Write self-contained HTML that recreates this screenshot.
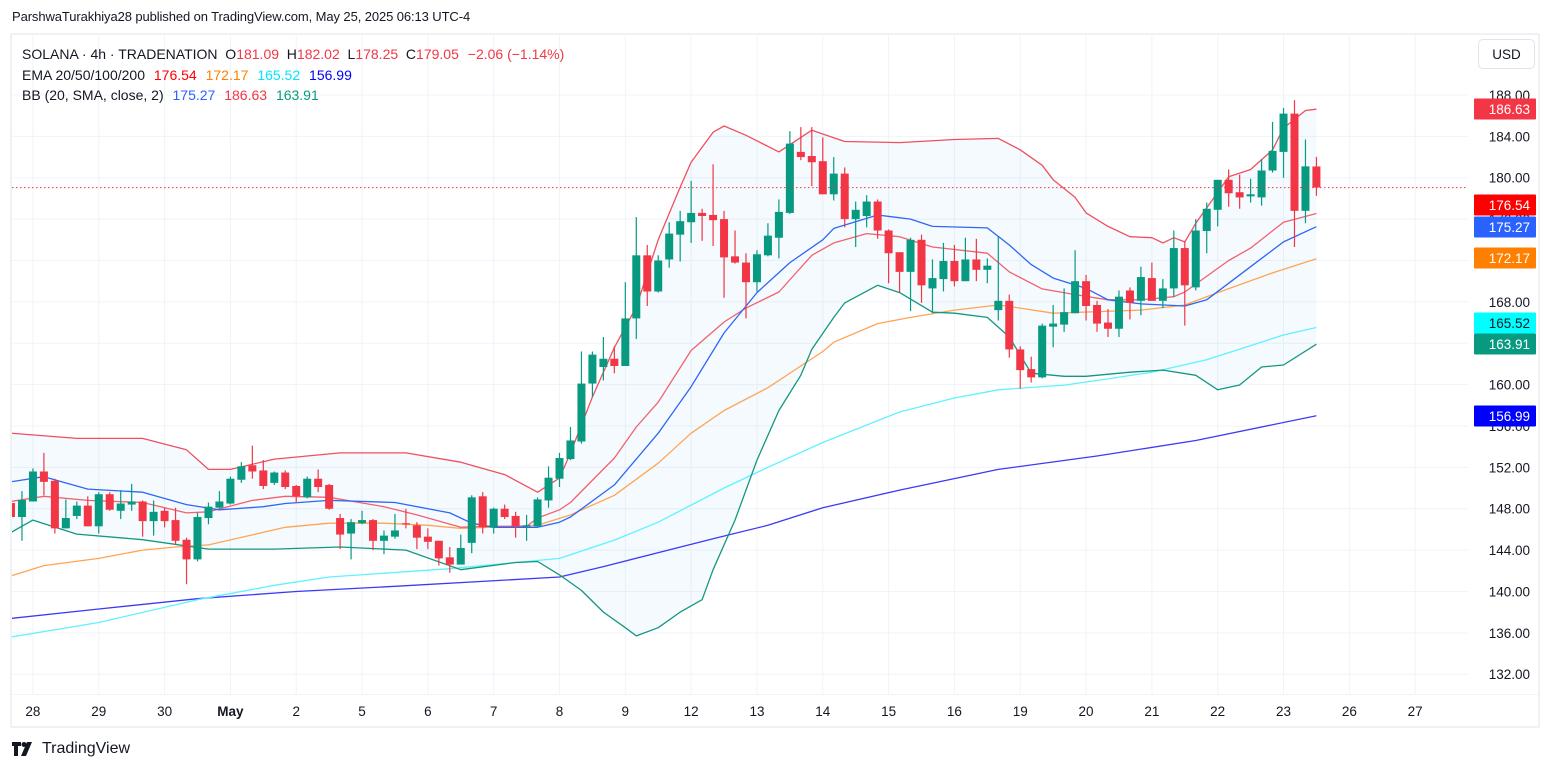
<!DOCTYPE html>
<html><head><meta charset="utf-8">
<style>
html,body{margin:0;padding:0;background:#fff;width:1553px;height:772px;overflow:hidden;font-family:"Liberation Sans",sans-serif;}
#hdr{position:absolute;left:12px;top:9px;font-size:13px;letter-spacing:-0.1px;color:#131722;}
#legend{position:absolute;left:22px;top:44px;font-size:14px;color:#131722;line-height:20.5px;}
#legend span{margin-left:5px}
#usd{position:absolute;left:1478px;top:39px;width:57px;height:30px;border:1px solid #e0e3eb;border-radius:5px;box-sizing:border-box;font-size:13.5px;text-align:center;line-height:29px;color:#131722;background:#fff}
#logo{position:absolute;left:12px;top:740px;font-size:16px;color:#131722;display:flex;align-items:center;gap:6px}
svg{position:absolute;left:0;top:0}
</style></head><body>
<div id="hdr">ParshwaTurakhiya28 published on TradingView.com, May 25, 2025 06:13 UTC-4</div>
<svg id="chart" width="1553" height="772"></svg>
<div id="legend">
<div>SOLANA · 4h · TRADENATION&nbsp; O<span style="color:#f23645;margin-left:0">181.09</span>&nbsp; H<span style="color:#f23645;margin-left:0">182.02</span>&nbsp; L<span style="color:#f23645;margin-left:0">178.25</span>&nbsp; C<span style="color:#f23645;margin-left:0">179.05</span> <span style="color:#f23645">−2.06 (−1.14%)</span></div>
<div>EMA 20/50/100/200 <span style="color:#ff0000">176.54</span> <span style="color:#ff7f00">172.17</span> <span style="color:#00e5ff">165.52</span> <span style="color:#0000ff">156.99</span></div>
<div>BB (20, SMA, close, 2) <span style="color:#2962ff">175.27</span> <span style="color:#f23645">186.63</span> <span style="color:#089981">163.91</span></div>
</div>
<div id="usd">USD</div>
<div id="logo"><svg width="24" height="14" viewBox="0 0 24 14" style="position:static"><path d="M0 0h9v4H6v10H2V4H0z" fill="#131722"/><circle cx="12" cy="2.5" r="2.5" fill="#131722"/><path d="M15 0h5l-6 14h-5z" fill="#131722"/></svg><span>TradingView</span></div>
<script>
const opens=[148.55,147.2,148.7,151.6,150.7,146.1,147.3,148.3,146.3,149.4,147.8,148.4,148.7,146.8,147.8,146.9,145.0,143.1,147.1,148.1,148.5,150.8,152.2,151.7,150.5,151.5,150.2,149.1,150.9,150.3,147.1,145.6,146.6,146.9,144.9,145.3,146.6,146.4,145.3,144.9,143.3,142.6,144.7,149.2,146.2,148.0,147.3,146.3,146.3,148.8,150.9,152.8,154.5,160.1,161.7,162.5,161.8,166.4,172.5,169.0,172.1,174.5,175.7,176.6,176.4,176.0,172.4,171.8,169.9,172.5,174.2,176.6,182.5,182.1,181.6,178.4,180.4,176.0,176.3,177.7,174.9,172.8,170.9,174.0,169.3,170.2,171.95,170.0,172.1,171.1,167.2,168.1,163.4,161.5,160.7,165.6,165.8,166.9,170.0,167.7,166.0,165.4,169.1,168.1,170.3,168.1,169.3,173.2,169.4,174.85,176.9,179.8,178.6,178.2,178.1,180.7,182.5,186.2,176.8,181.09];
const highs=[149.03,149.7,151.9,153.4,150.9,148.9,148.7,149.2,149.6,149.6,149.8,150.4,148.8,148.8,148.1,148.1,145.2,147.6,148.6,149.7,151.1,152.5,154.1,152.7,151.6,151.7,150.3,151.1,151.8,150.4,147.5,147.0,147.8,147.0,145.9,147.5,148.0,146.7,146.1,144.9,144.3,145.5,149.3,149.6,148.1,148.4,147.7,147.4,149.1,152.1,153.4,155.9,163.2,163.2,164.6,163.7,169.9,176.2,173.5,172.5,175.7,176.8,179.7,177.0,181.3,176.8,174.9,172.7,173.0,175.6,177.9,184.5,184.9,184.9,183.9,182.0,181.0,177.7,178.3,177.9,175.0,172.8,174.2,174.5,172.1,173.7,173.5,174.2,174.1,172.2,174.3,168.7,163.7,162.7,165.9,167.7,169.3,173.0,170.6,168.1,167.3,169.1,169.4,171.4,171.8,170.2,174.9,173.9,176.0,177.6,179.8,180.8,180.3,179.9,181.8,185.4,186.75,187.5,183.7,182.02];
const lows=[146.9,144.9,148.7,149.3,145.6,146.1,147.0,146.3,145.6,147.8,147.0,147.8,145.3,145.4,146.2,144.5,140.7,142.9,146.5,148.0,148.4,150.5,150.9,149.9,150.3,149.9,148.6,149.0,149.6,147.9,144.1,143.1,146.5,144.0,143.6,145.1,146.1,144.1,144.1,142.5,141.8,142.6,143.7,145.6,145.6,147.0,145.2,144.9,146.2,148.1,150.1,152.7,154.3,158.8,160.4,161.1,161.8,164.4,167.6,168.9,171.3,171.9,173.7,173.9,173.4,168.4,171.7,166.4,169.0,172.4,172.2,176.5,181.7,179.2,178.4,177.8,175.2,173.3,175.2,174.1,169.8,168.9,167.1,167.9,166.9,169.0,169.5,170.0,170.0,169.8,166.2,162.6,159.6,160.2,160.6,163.6,165.1,166.9,166.2,165.1,164.6,164.6,166.3,166.7,168.1,167.4,168.5,165.7,169.1,172.7,175.3,177.2,177.0,177.6,177.3,180.5,180.0,173.3,175.6,178.25];
const closes=[147.2,148.84,151.6,150.6,146.1,147.1,148.3,146.3,149.4,147.9,148.5,148.7,146.8,147.7,146.8,144.9,143.1,147.2,148.2,148.7,150.9,152.1,151.6,150.2,151.5,150.1,149.2,150.9,150.1,148.0,145.5,146.7,146.9,144.9,145.4,145.9,146.5,145.2,144.8,143.2,142.6,144.2,149.1,146.2,148.0,147.2,146.3,146.4,148.9,151.0,152.9,154.6,160.1,162.9,162.5,161.8,166.4,172.5,169.0,172.0,174.6,175.8,176.6,176.3,175.9,172.3,171.8,169.9,172.6,174.4,176.7,183.3,182.0,181.5,178.4,180.4,176.0,176.9,177.7,174.9,172.7,170.9,174.0,169.6,170.3,171.95,170.0,172.1,171.1,171.5,168.1,163.4,161.4,160.7,165.7,165.9,167.0,170.0,167.6,165.9,165.4,168.5,167.9,170.4,168.1,169.3,173.2,169.6,174.9,177.0,179.8,178.5,178.1,178.4,180.7,182.6,186.2,176.8,181.1,179.05];

const bbUpIdx=[0,6,12,16,18,20,24,30,36,41,45,48,50,51,53,55,57,59,61,62,64,65,67,70,73,76,81,86,90,92,94,95,97,98,100,102,104,105,106,107,108,111,113,115,116,118,119];
const bbUpVal=[155.3,154.8,154.8,153.7,151.8,151.8,152.8,153.4,153.4,152.5,151.3,149.6,150.97,153.4,158.8,163.6,167.5,174.0,179.1,181.5,184.4,185.0,184.1,182.5,184.6,183.5,183.4,183.7,183.8,182.7,181.2,179.8,178.1,176.6,175.3,174.3,174.2,173.7,174.2,173.8,175.6,180.1,180.8,182.7,184.8,186.5,186.63];
const bbLoIdx=[0,2,6,12,18,24,30,36,41,46,48,50,52,54,56,57,59,61,63,64,66,68,70,72,73,75,76,79,81,84,86,89,91,93,96,98,102,105,108,110,112,114,116,119];
const bbLoVal=[145.7,146.9,145.55,145.0,144.1,144.1,144.3,144.0,142.1,142.8,142.9,141.6,140.1,138.0,136.5,135.7,136.5,138.0,139.2,142.1,146.9,152.7,157.5,160.9,163.4,166.5,167.9,169.6,168.9,167.0,166.9,166.5,164.6,161.1,160.8,160.8,161.2,161.4,160.9,159.5,159.96,161.7,161.9,163.91];
const bbMidIdx=[0,3,7,12,16,19,23,25,29,35,40,42,44,48,50,51,55,59,62,65,68,71,74,75,79,82,84,89,91,93,95,98,100,103,107,109,113,116,119];
const bbMidVal=[150.6,151.1,149.9,149.6,148.4,147.9,148.2,148.5,148.8,148.6,147.6,146.6,146.2,146.2,146.7,147.2,150.3,155.3,159.8,165.0,168.9,171.8,174.0,175.1,176.4,176.0,175.3,175.15,173.5,171.6,170.3,169.3,168.2,167.8,167.6,168.2,171.4,173.8,175.27];
const ema20Idx=[0,3,7,12,16,18,22,25,29,34,37,41,43,47,48,50,51,55,57,59,62,65,67,70,73,75,78,81,84,89,91,94,97,100,103,106,107,111,113,116,119];
const ema20Val=[148.7,149.2,148.8,148.6,147.6,147.7,148.8,149.2,149.1,148.2,147.4,146.2,146.3,146.3,147.1,147.9,148.6,152.9,155.9,158.3,163.3,166.05,167.4,168.95,172.5,173.7,174.6,174.3,173.3,172.7,170.9,169.25,168.7,168.2,168.2,168.5,168.95,172.0,173.2,175.7,176.54];
const ema50Idx=[0,3,8,12,15,18,25,29,34,38,41,46,48,51,55,59,62,65,69,74,75,79,82,86,90,92,95,103,107,110,115,119];
const ema50Val=[141.5,142.5,143.2,144.0,144.3,144.5,146.2,146.6,146.6,146.4,146.1,146.3,146.4,147.4,149.3,152.4,155.3,157.5,159.7,163.2,164.1,165.9,166.5,167.2,167.7,167.4,166.9,167.2,167.7,168.9,170.8,172.17];
const ema100Idx=[0,8,17,24,29,40,50,55,59,65,69,74,81,86,90,96,99,104,109,116,119];
const ema100Val=[135.6,137.0,139.2,140.6,141.4,142.2,143.2,144.97,146.7,150.0,152.0,154.4,157.35,158.7,159.5,159.95,160.4,161.2,162.4,164.8,165.52];
const ema200Idx=[0,8,17,26,35,45,50,54,64,69,74,81,90,99,108,119];
const ema200Val=[137.4,138.3,139.3,140.0,140.5,141.1,141.4,142.4,145.1,146.4,148.1,149.8,151.8,153.1,154.6,156.99];

const priceTicks=[132,136,140,144,148,152,156,160,164,168,172,176,180,184,188];
const dayLabels=["28","29","30","May","2","5","6","7","8","9","12","13","14","15","16","19","20","21","22","23","26","27"];
const lastClose=179.05;
const tags=[[186.63,"#f23645","#fff"],[176.54,"#ff0000","#fff"],[175.27,"#2962ff","#fff"],[172.17,"#ff7f00","#fff"],[165.52,"#00ffff","#131722"],[163.91,"#089981","#fff"],[156.99,"#0000ff","#fff"]];
const tagY=[109,205,227,258,323,344,416];

const NS="http://www.w3.org/2000/svg";
const svg=document.getElementById('chart');
const L=12,R=1468,T=34,B=694;
function y(p){return 95+(188-p)*10.343;}
function x(i){return 11+10.97*i;}
function mk(tag,attrs,parent){const e=document.createElementNS(NS,tag);for(const k in attrs)e.setAttribute(k,attrs[k]);(parent||svg).appendChild(e);return e;}

const frame=mk('rect',{x:11,y:34,width:1528,height:693,fill:'none',stroke:'#e0e3eb','stroke-width':1});


const clip=mk('clipPath',{id:'pc'});mk('rect',{x:L,y:T,width:R-L,height:B-T},clip);
const g=mk('g',{'clip-path':'url(#pc)'});



priceTicks.forEach(p=>{const l=mk('line',{x1:L,x2:R,y1:y(p),y2:y(p),stroke:'#f0f3fa','stroke-width':1},g);

});
dayLabels.forEach((d,k)=>{const xi=x(2+6*k);
const l=mk('line',{x1:xi,x2:xi,y1:T,y2:B,stroke:'#f0f3fa','stroke-width':1},g);


const t=mk('text',{x:xi,y:716,'text-anchor':'middle','font-size':13.5,fill:'#131722','font-weight':d==='May'?'bold':'normal','font-family':'Liberation Sans, sans-serif'});
t.textContent=d;

});
mk('line',{x1:L,x2:1538,y1:B+0.5,y2:B+0.5,stroke:'#f0f3fa'});

function pts(idx,val){return idx.map((i,k)=>x(i).toFixed(1)+','+y(val[k]).toFixed(1));}
const fillPts=pts(bbUpIdx,bbUpVal).concat(pts(bbLoIdx,bbLoVal).reverse());
const bf=mk('polygon',{points:fillPts.join(' '),fill:'rgba(33,150,243,0.05)'},g);



function line(idx,val,color,name,w){const p=mk('polyline',{points:pts(idx,val).join(' '),fill:'none',stroke:color,'stroke-width':w||1.3,'stroke-linejoin':'round'},g);

}
line(ema200Idx,ema200Val,'#3b3bf5','ema-200-line');
line(ema100Idx,ema100Val,'#5ff2ff','ema-100-line');
line(ema50Idx,ema50Val,'#ffa552','ema-50-line');
line(bbLoIdx,bbLoVal,'#14977f','bb-lower-line');
line(bbUpIdx,bbUpVal,'#f0505e','bb-upper-line');
line(ema20Idx,ema20Val,'#f2626d','ema-20-line');
line(bbMidIdx,bbMidVal,'#2f66f5','bb-basis-line');

opens.forEach((o,i)=>{const c=closes[i],up=c>=o,col=up?'#089981':'#f23645';const xi=x(i);
const w=mk('line',{x1:xi,x2:xi,y1:y(highs[i]),y2:y(lows[i]),stroke:col,'stroke-width':1.2},g);


const top=y(Math.max(o,c)),bot=y(Math.min(o,c));
const r=mk('rect',{x:xi-4,y:top,width:8,height:Math.max(1.2,bot-top),fill:col},g);

});

const lp=mk('line',{x1:L,x2:R,y1:y(lastClose),y2:y(lastClose),stroke:'#f23645','stroke-width':1,'stroke-dasharray':'1.5,2.5'});



priceTicks.forEach(p=>{const t=mk('text',{x:1530,y:y(p)+5,'text-anchor':'end','font-size':13.5,fill:'#131722','font-family':'Liberation Sans, sans-serif'});
t.textContent=p.toFixed(2);

});
tags.forEach((tg,k)=>{const yy=tagY[k];
const r=mk('rect',{x:1474,y:yy-10.5,width:62,height:21,fill:tg[1],rx:1});


const t=mk('text',{x:1530,y:yy+5,'text-anchor':'end','font-size':13.5,fill:tg[2],'font-family':'Liberation Sans, sans-serif'});
t.textContent=tg[0].toFixed(2);

});
</script>
</body></html>
